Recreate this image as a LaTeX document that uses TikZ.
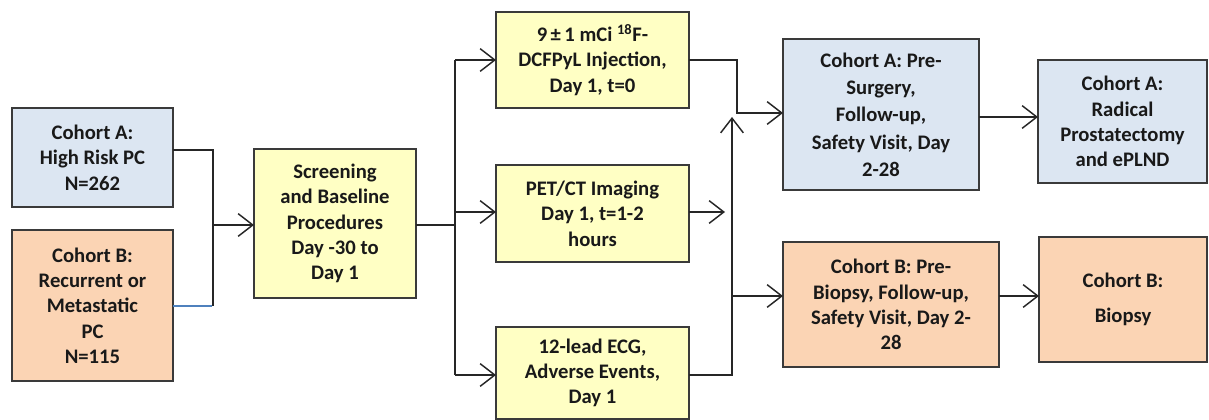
\documentclass[tikz,border=0pt]{standalone}
\usepackage{fontspec}
\setmainfont{Carlito}
\usetikzlibrary{arrows.meta,calc}
\definecolor{boxblue}{HTML}{DCE6F2}
\definecolor{boxorange}{HTML}{FBD4B4}
\definecolor{boxyellow}{HTML}{FFFFC4}
\definecolor{edge}{HTML}{3A3A3A}
\definecolor{linkblue}{HTML}{4F81BD}
\tikzset{
  every node/.style={font=\bfseries\fontsize{15.5pt}{19pt}\selectfont, text=black!90, align=center, inner sep=0pt, outer sep=0pt},
  box/.style={draw=edge, line width=1.5pt},
  bluebox/.style={box, fill=boxblue},
  orangebox/.style={box, fill=boxorange},
  yellowbox/.style={box, fill=boxyellow},
  conn/.style={line width=1.1pt, draw=black!85},
  arr/.style={conn, -{Straight Barb[length=11pt,width=17pt,line width=1.1pt]}},
}
\begin{document}
\begin{tikzpicture}[x=0.75pt,y=-0.75pt]
\useasboundingbox (0,0) rectangle (1209,420);
% boxes
\node[bluebox, minimum width=161*0.75pt, minimum height=99*0.75pt] (cA) at (92.5,157.5) {Cohort A:\\High Risk PC\\N=262};
\node[orangebox, minimum width=161*0.75pt, minimum height=151*0.75pt] (cB) at (92.5,305.5) {Cohort B:\\Recurrent or\\Metastatic\\PC\\N=115};
\node[yellowbox, minimum width=162*0.75pt, minimum height=149*0.75pt] (scr) at (335,223.5) {Screening\\and Baseline\\Procedures\\Day -30 to\\Day 1};
\node[yellowbox, minimum width=193*0.75pt, minimum height=96*0.75pt] (inj) at (592.5,60) {9\,±\,1 mCi \textsuperscript{18}F-\\DCFPyL Injection,\\Day 1, t=0};
\node[yellowbox, minimum width=193*0.75pt, minimum height=97*0.75pt] (pet) at (592.5,213.5) {PET/CT Imaging\\Day 1, t=1-2\\hours};
\node[yellowbox, minimum width=193*0.75pt, minimum height=92*0.75pt] (ecg) at (592.5,373) {12-lead ECG,\\Adverse Events,\\Day 1};
\node[bluebox, minimum width=196*0.75pt, minimum height=151*0.75pt, font=\bfseries\fontsize{15.5pt}{20.5pt}\selectfont] (preA) at (881,114.5) {Cohort A: Pre-\\Surgery,\\Follow-up,\\Safety Visit, Day\\2-28};
\node[bluebox, minimum width=169*0.75pt, minimum height=123*0.75pt] (rad) at (1122.5,121.5) {Cohort A:\\Radical\\Prostatectomy\\and ePLND};
\node[orangebox, minimum width=216*0.75pt, minimum height=125*0.75pt] (preB) at (891,304.5) {Cohort B: Pre-\\Biopsy, Follow-up,\\Safety Visit, Day 2-\\28};
\node[orangebox, minimum width=168*0.75pt, minimum height=125*0.75pt] (bio) at (1123,299.5) {Cohort B:\\[7pt]Biopsy};
% junction coordinates
\coordinate (j1) at (213,225);
\coordinate (j2) at (455,225);
\coordinate (petEnd) at (725,212);
\coordinate (upEnd) at (732,117);
% left merge
\draw[conn] ($(cA.east)+(0,-7.5)$) -| (j1) -- (j1 |- cB.east);
\draw[line width=0.9pt, draw=linkblue] ($(cB.east)+(0,0.5)$) -- ($(j1 |- cB.east)+(-0.7,0.5)$);
\draw[arr] (j1) -- (scr.west |- j1);
% split
\draw[conn] (scr.east |- j2) -- (j2);
\draw[conn, line width=1.3pt] (j2 |- inj.west) -- ($(j2 |- ecg.west)+(0,2)$);
\draw[arr] (j2 |- inj.west) -- (inj.west);
\draw[arr] ($(j2 |- pet.west)+(0,-1.5)$) -- ($(pet.west)+(0,-1.5)$);
\draw[arr] ($(j2 |- ecg.west)+(0,2)$) -- ($(ecg.west)+(0,2)$);
% right side
\draw[arr] (inj.east) -- ++(48,0) |- ($(preA.west)+(0,-1.5)$);
\draw[arr] ($(pet.east)+(0,-1.5)$) -- (petEnd);
\draw[arr] ($(ecg.east)+(0,2)$) -| (upEnd);
\draw[arr] ($(upEnd |- preB.west)+(0,-8.5)$) -- ($(preB.west)+(0,-8.5)$);
\draw[arr] ($(preA.east)+(0,2.5)$) -- ($(rad.west)+(0,-4.5)$);
\draw[arr] ($(preB.east)+(0,-8.5)$) -- ($(bio.west)+(0,-3.5)$);
\end{tikzpicture}
\end{document}
